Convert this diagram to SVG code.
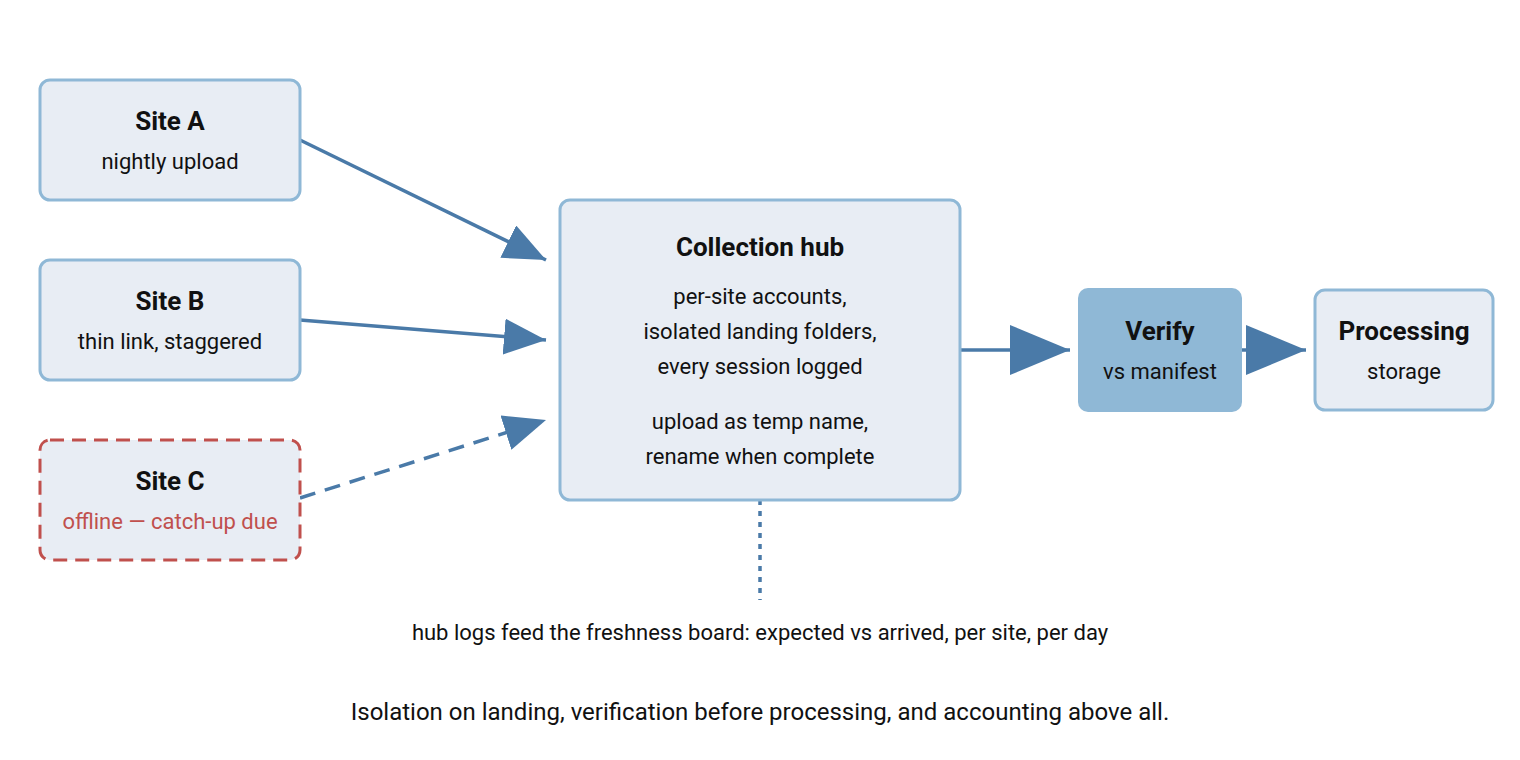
<svg xmlns="http://www.w3.org/2000/svg" width="1520" height="760" viewBox="0 0 1520 760">
<defs>
<marker id="ah" markerUnits="userSpaceOnUse" markerWidth="44" markerHeight="36" viewBox="0 0 44 36" refX="42" refY="18" orient="auto"><path d="M0,0 L42,18 L0,36 Z" fill="#4a7aa8"/></marker>
<marker id="ahb" markerUnits="userSpaceOnUse" markerWidth="62" markerHeight="50" viewBox="0 0 62 50" refX="60" refY="25" orient="auto"><path d="M0,0 L60,25 L0,50 Z" fill="#4a7aa8"/></marker>
</defs>
<style>
.box{fill:#e8edf4;stroke:#8fb8d6;stroke-width:3}
.t{font-family:Roboto,"Liberation Sans",sans-serif;font-weight:bold;font-size:26px;fill:#111;text-anchor:middle}
.s{font-family:Roboto,"Liberation Sans",sans-serif;font-size:22px;fill:#111;text-anchor:middle}
.ln{stroke:#4a7aa8;stroke-width:3.5;fill:none}
</style>
<rect width="1520" height="760" fill="#fff"/>
<g id="connectors">
<line class="ln" x1="300" y1="140" x2="546" y2="260" marker-end="url(#ah)"/>
<line class="ln" x1="300" y1="320" x2="546" y2="340" marker-end="url(#ah)"/>
<line class="ln" x1="300" y1="498" x2="546" y2="420" stroke-dasharray="16,10" marker-end="url(#ah)"/>
<line class="ln" x1="960" y1="350" x2="1070" y2="350" stroke-width="5" marker-end="url(#ahb)"/>
<line class="ln" x1="1242" y1="350" x2="1306" y2="350" stroke-width="5" marker-end="url(#ahb)"/>
<line class="ln" x1="760" y1="500" x2="760" y2="600" stroke-width="3" stroke-dasharray="5,6"/>
</g>
<g id="siteA"><rect class="box" x="40" y="80" width="260" height="120" rx="10"/><text class="t" x="170" y="130">Site A</text><text class="s" x="170" y="169">nightly upload</text></g>
<g id="siteB"><rect class="box" x="40" y="260" width="260" height="120" rx="10"/><text class="t" x="170" y="310">Site B</text><text class="s" x="170" y="349">thin link, staggered</text></g>
<g id="siteC"><rect class="box" x="40" y="440" width="260" height="120" rx="10" stroke="#c0504d" style="stroke:#c0504d" stroke-dasharray="14,8"/><text class="t" x="170" y="490">Site C</text><text class="s" x="170" y="529" style="fill:#c0504d">offline — catch-up due</text></g>
<g id="hub"><rect class="box" x="560" y="200" width="400" height="300" rx="10"/><text class="t" x="760" y="256">Collection hub</text>
<text class="s" x="760" y="304">per-site accounts,</text><text class="s" x="760" y="339">isolated landing folders,</text><text class="s" x="760" y="374">every session logged</text>
<text class="s" x="760" y="429">upload as temp name,</text><text class="s" x="760" y="464">rename when complete</text></g>
<g id="verify"><rect x="1078" y="288" width="164" height="124" rx="10" fill="#8fb8d6"/><text class="t" x="1160" y="340">Verify</text><text class="s" x="1160" y="379">vs manifest</text></g>
<g id="processing"><rect class="box" x="1315" y="290" width="178" height="120" rx="10"/><text class="t" x="1404" y="340">Processing</text><text class="s" x="1404" y="379">storage</text></g>
<text class="s" x="760" y="640">hub logs feed the freshness board: expected vs arrived, per site, per day</text>
<text class="s" x="760" y="720" style="font-size:24px">Isolation on landing, verification before processing, and accounting above all.</text>
</svg>
